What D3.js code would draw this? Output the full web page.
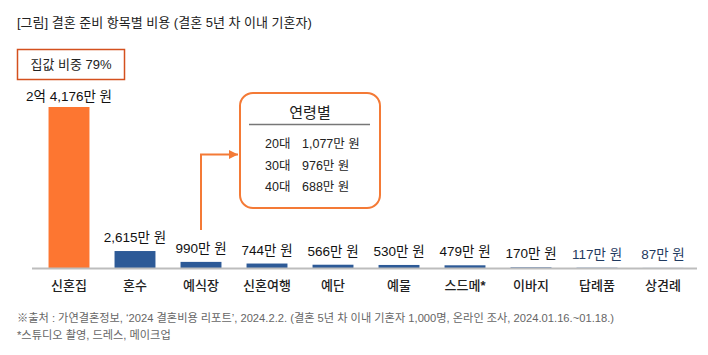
<!DOCTYPE html>
<html><head><meta charset="utf-8">
<script src="https://cdn.jsdelivr.net/npm/d3@7"></script>
<style>
body{margin:0;background:#fff;}
text{font-family:"Liberation Sans","Noto Sans CJK KR",sans-serif;}
</style></head>
<body><svg id="c" width="708" height="355"></svg>
<script>
const categories = ["신혼집","혼수","예식장","신혼여행","예단","예물","스드메*","이바지","답례품","상견례"];
const values = [24176,2615,990,744,566,530,479,170,117,87];
const valueLabels = ["2억 4,176만 원","2,615만 원","990만 원","744만 원","566만 원","530만 원","479만 원","170만 원","117만 원","87만 원"];
const ageGroups = ["20대","30대","40대"];
const ageValues = ["1,077만 원","976만 원","688만 원"];
const title = "[그림] 결혼 준비 항목별 비용 (결혼 5년 차 이내 기혼자)";
const badge = "집값 비중 79%";
const notes = ["※출처 : 가연결혼정보, ‘2024 결혼비용 리포트’, 2024.2.2. (결혼 5년 차 이내 기혼자 1,000명, 온라인 조사, 2024.01.16.~01.18.)","*스튜디오 촬영, 드레스, 메이크업"];

const svg = d3.select("#c");
const x = d3.scaleBand().domain(categories).range([36,696]).paddingInner(0.38).paddingOuter(0.19);
const y = d3.scaleLinear().domain([0,24176]).range([268.5,107]);

svg.append("text").attr("x",17).attr("y",27).attr("font-size",13).attr("fill","#222").text(title);

svg.append("rect").attr("x",17.5).attr("y",49.5).attr("width",107).attr("height",30)
  .attr("fill","#fff").attr("stroke","#d4501e").attr("stroke-width",1.5);
svg.append("text").attr("x",71).attr("y",69).attr("text-anchor","middle").attr("font-size",13).attr("fill","#222").text(badge);

svg.selectAll("rect.bar").data(values).join("rect").attr("class","bar")
  .attr("x",(d,i)=>x(categories[i])).attr("width",x.bandwidth())
  .attr("y",d=>y(d)).attr("height",d=>y(0)-y(d))
  .attr("fill",(d,i)=>i===0?"#fd7631":"#2d5a97");

svg.append("line").attr("x1",32).attr("x2",697).attr("y1",268.5).attr("y2",268.5)
  .attr("stroke","#bdbdbd").attr("stroke-width",2.2);

svg.selectAll("text.val").data(values).join("text").attr("class","val")
  .attr("x",(d,i)=>x(categories[i])+x.bandwidth()/2)
  .attr("y",(d,i)=>i===0?y(d)-6:y(d)-9)
  .attr("text-anchor","middle").attr("font-size",13.5)
  .attr("fill",(d,i)=>i>=8?"#1f3a60":"#111")
  .text((d,i)=>valueLabels[i]);

svg.selectAll("text.cat").data(categories).join("text").attr("class","cat")
  .attr("x",d=>x(d)+x.bandwidth()/2).attr("y",290)
  .attr("text-anchor","middle").attr("font-size",13).attr("font-weight",550).attr("fill","#222")
  .text(d=>d);

// callout
const cx = x("예식장")+x.bandwidth()/2;
const defs = svg.append("defs");
defs.append("marker").attr("id","ah").attr("viewBox","0 0 10 10").attr("refX",10).attr("refY",5)
  .attr("markerWidth",9).attr("markerHeight",9).attr("markerUnits","userSpaceOnUse").attr("orient","auto")
  .append("path").attr("d","M0,0L10,5L0,10Z").attr("fill","#f47a36");
svg.append("path").attr("d",`M${cx},230V154.5H238`).attr("fill","none")
  .attr("stroke","#f47a36").attr("stroke-width",2).attr("marker-end","url(#ah)");

svg.append("rect").attr("x",240).attr("y",93).attr("width",140).attr("height",115).attr("rx",13)
  .attr("fill","#fff").attr("stroke","#f47a36").attr("stroke-width",2);
svg.append("text").attr("x",310).attr("y",118).attr("text-anchor","middle").attr("font-size",15).attr("fill","#222").text("연령별");
svg.append("line").attr("x1",249).attr("x2",370).attr("y1",124.5).attr("y2",124.5).attr("stroke","#777").attr("stroke-width",1.5);
ageGroups.forEach((g,i)=>{
  const yy = 148 + i*21.5;
  svg.append("text").attr("x",265).attr("y",yy).attr("font-size",12.5).attr("fill","#222").text(g);
  svg.append("text").attr("x",302).attr("y",yy).attr("font-size",12.5).attr("fill","#222").text(ageValues[i]);
});

notes.forEach((n,i)=>{
  svg.append("text").attr("x",17).attr("y",322+i*17).attr("font-size",11.2).attr("fill","#666").text(n);
});
</script></body></html>
